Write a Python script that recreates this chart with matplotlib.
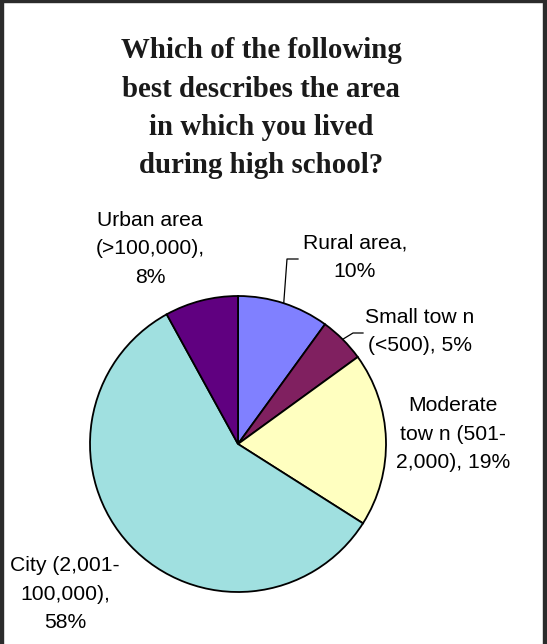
import matplotlib
matplotlib.use("Agg")
import matplotlib.pyplot as plt
from matplotlib.patches import Rectangle
import numpy as np

# ---- data ----
categories = ["Rural area,\n10%", "Small tow n\n(<500), 5%", "Moderate\ntow n (501-\n2,000), 19%",
              "City (2,001-\n100,000),\n58%", "Urban area\n(>100,000),\n8%"]
values = [10, 5, 19, 58, 8]
colors = ["#8080FF", "#802060", "#FFFFC0", "#A0E0E0", "#600080"]
title_lines = ["Which of the following", "best describes the area",
               "in which you lived", "during high school?"]

W, H = 547, 644
fig = plt.figure(figsize=(W / 100, H / 100), dpi=100)
fig.patch.set_facecolor("white")

def fx(px):
    return px / W

def fy(py):
    return 1 - py / H

# pie axes: center (238,444) px, radius 148 px
cx, cy, R = 238, 444, 148
ax = fig.add_axes([fx(cx - R), fy(cy + R), 2 * R / W, 2 * R / H])
ax.pie(values, colors=colors, startangle=90, counterclock=False, radius=1.0,
       wedgeprops=dict(edgecolor="black", linewidth=1.3))
ax.set_xlim(-1, 1)
ax.set_ylim(-1, 1)
ax.set_aspect("auto")
ax.axis("off")

# title
baselines = [58, 97, 135, 173]
for line, b in zip(title_lines, baselines):
    fig.text(fx(261), fy(b), line, ha="center", va="baseline",
             fontfamily="Liberation Serif", fontweight="bold", fontsize=20.8,
             color="#1a1a1a")

# labels (block centers in px)
label_pos = [(355, 257.5), (420, 331.5), (453, 434), (65, 594), (150, 249)]
for text, (px, py) in zip(categories, label_pos):
    fig.text(fx(px), fy(py), text, ha="center", va="center",
             fontfamily="Liberation Sans", fontsize=15.2, linespacing=1.62,
             color="black", multialignment="center")

# leader lines for small slices (Rural, Small town)
def to_data(px, py):
    return (px - cx) / R, (cy - py) / R

cum = np.cumsum([0] + values)
total = float(sum(values))
leaders = {0: [(298, 259), (287, 259)], 1: [(363, 333), (353, 333)]}
for i, pts in leaders.items():
    mid = (cum[i] + values[i] / 2) / total
    ang = np.deg2rad(90 - 360 * mid)
    sx, sy = np.cos(ang), np.sin(ang)
    xs = [to_data(*p)[0] for p in pts] + [sx]
    ys = [to_data(*p)[1] for p in pts] + [sy]
    ax.plot(xs, ys, color="black", linewidth=0.9, clip_on=False)

# frame borders
fig.patches.append(Rectangle((0, 0), fx(3), 1, transform=fig.transFigure,
                             color="#2b2b2b", zorder=10))
fig.patches.append(Rectangle((0, fy(2)), 1, 2 / H, transform=fig.transFigure,
                             color="#2b2b2b", zorder=10))
fig.patches.append(Rectangle((fx(543), 0), 4 / W, 1, transform=fig.transFigure,
                             color="#2b2b2b", zorder=10))

fig.savefig("out.png", dpi=100, facecolor="white")
